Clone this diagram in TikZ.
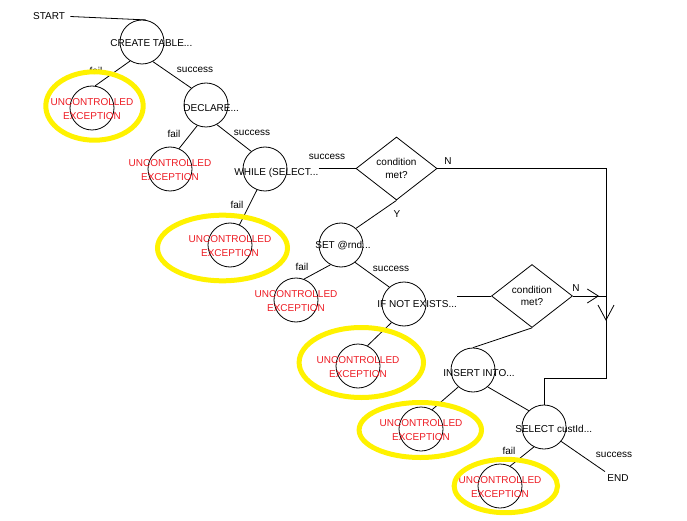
\documentclass[tikz,border=0pt]{standalone}
\usepackage{fontspec}
\setmainfont{Liberation Sans}
\usetikzlibrary{arrows.meta, shapes.geometric, decorations.markings}

\definecolor{errred}{RGB}{237,28,36}
\definecolor{hiyellow}{RGB}{255,242,0}

\begin{document}
\begin{tikzpicture}[x=1pt, y=-1pt, line width=0.8pt,
                stepcirc/.style={draw, circle, minimum size=44pt, inner sep=0pt},
                steptext/.style={anchor=base west, inner sep=0pt, text height=7pt, text depth=0pt},
                errtext/.style={text=errred, align=center, inner sep=0pt,
                                font=\fontsize{10}{14}\selectfont},
                cond/.style={draw, diamond, minimum width=81pt, minimum height=63pt,
                             inner sep=0pt, align=center, font=\fontsize{10}{12.5}\selectfont},
                edgelabel/.style={anchor=base, inner sep=0pt},
                highlight/.style={draw=hiyellow, line width=5pt},
                downmark/.style={decoration={markings, mark=at position #1 with
                                 {\arrow{Straight Barb[length=15pt, width=16pt]}}}, postaction={decorate}},
                rightmark/.style={decoration={markings, mark=at position #1 with
                                 {\arrow{Straight Barb[length=11pt, width=14pt]}}}, postaction={decorate}}]

                \useasboundingbox (0,0) rectangle (687,521);

                % Steps of the script
                \node[steptext] (start) at (32.7,20) {START};
                \node[stepcirc] (create) at (142,42) {};
                \node[steptext] (createtxt) at (110,47) {CREATE TABLE...};
                \node[stepcirc] (declare) at (206,105) {};
                \node[steptext] (declaretxt) at (183,112) {DECLARE...};
                \node[stepcirc] (while) at (265,169) {};
                \node[steptext] (whiletxt) at (234,176) {WHILE (SELECT...};
                \node[stepcirc] (set) at (341,245) {};
                \node[steptext] (settxt) at (315,248) {SET @rnd...};
                \node[stepcirc] (ifnot) at (404,304) {};
                \node[steptext] (ifnottxt) at (377,307) {IF NOT EXISTS...};
                \node[stepcirc] (insert) at (473,370) {};
                \node[steptext] (inserttxt) at (443,376) {INSERT INTO...};
                \node[stepcirc] (select) at (544,427) {};
                \node[steptext] (selecttxt) at (515,432.5) {SELECT custId...};
                \node[steptext, inner sep=2pt] (endtxt) at (605,481) {END};

                % Conditions
                \node[cond] (cond1) at (396.5,168.5) {condition\\met?};
                \node[cond] (cond2) at (532,296) {condition\\met?};
                \coordinate (nturn) at (606,378);

                % Exceptions
                \foreach \i/\x/\y in {1/92/108, 2/170/169, 3/230/245, 4/296/300,
                                      5/358/366, 6/421/429, 7/500/486} {
                    \node[stepcirc] (err\i) at (\x,\y) {};
                    \node[errtext] (err\i txt) at ([yshift=-1.5pt]err\i) {UNCONTROLLED\\EXCEPTION};
                }

                % Connectors
                \draw ([xshift=5pt]start.east) -- (create.80);
                \draw (create.238) -- (err1.82);
                \draw (create.299) -- (declare.131);
                \draw (declare.247) -- (err2.66);
                \draw (declare.299) -- (while.128);
                \draw (whiletxt.east |- cond1.west) -- (cond1.west);
                \draw (while.249) -- (err3.65);
                \draw (cond1.south) -- (set.48);
                \draw[downmark=321pt] (cond1.east) -| (nturn) -| (select.north);
                \draw (set.242) -- (err4.69);
                \draw (set.309) -- (ifnot.131);
                \draw (ifnottxt.east |- cond2.west) -- (cond2.west);
                \draw (ifnot.236) -- (err5.65);
                \draw (cond2.south) -- (insert.north);
                \draw[rightmark=-7pt] (cond2.east) -- (cond2.east -| nturn);
                \draw (insert.229) -- (err6.60);
                \draw (insert.311) -- (select.133);
                \draw (select.243) -- (err7.63);
                \draw (select.320) -- (endtxt.north west);

                % Labels
                \node[edgelabel] (fail1) at (96,75) {fail};
                \node[edgelabel] (succ1) at (195,73) {success};
                \node[edgelabel] (fail2) at (174,138) {fail};
                \node[edgelabel] (succ2) at (252,136) {success};
                \node[edgelabel] (succ3) at (327,160) {success};
                \node[edgelabel] (fail3) at (237,208) {fail};
                \node[edgelabel] (yes1) at (397,218) {Y};
                \node[edgelabel] (no1) at (448,165) {N};
                \node[edgelabel] (fail4) at (302,270) {fail};
                \node[edgelabel] (succ4) at (391,271.5) {success};
                \node[edgelabel] (no2) at (576,291.5) {N};
                \node[edgelabel] (fail5) at (509,454) {fail};
                \node[edgelabel] (succ5) at (614,457) {success};

                % Yellow highlights
                \draw[highlight] (err1) ++(2.5,-2) ellipse [x radius=48.7pt, y radius=34.2pt];
                \draw[highlight] (err3) ++(-7.5,3) ellipse [x radius=65pt, y radius=32.8pt];
                \draw[highlight] (err5) ++(3.3,-3.5) ellipse [x radius=62.2pt, y radius=35pt];
                \draw[highlight] (err6) ++(-0.7,1) ellipse [x radius=61.2pt, y radius=27.5pt];
                \draw[highlight] (err7) ++(5.8,0) ellipse [x radius=51.7pt, y radius=26.7pt];
            \end{tikzpicture}
\end{document}
